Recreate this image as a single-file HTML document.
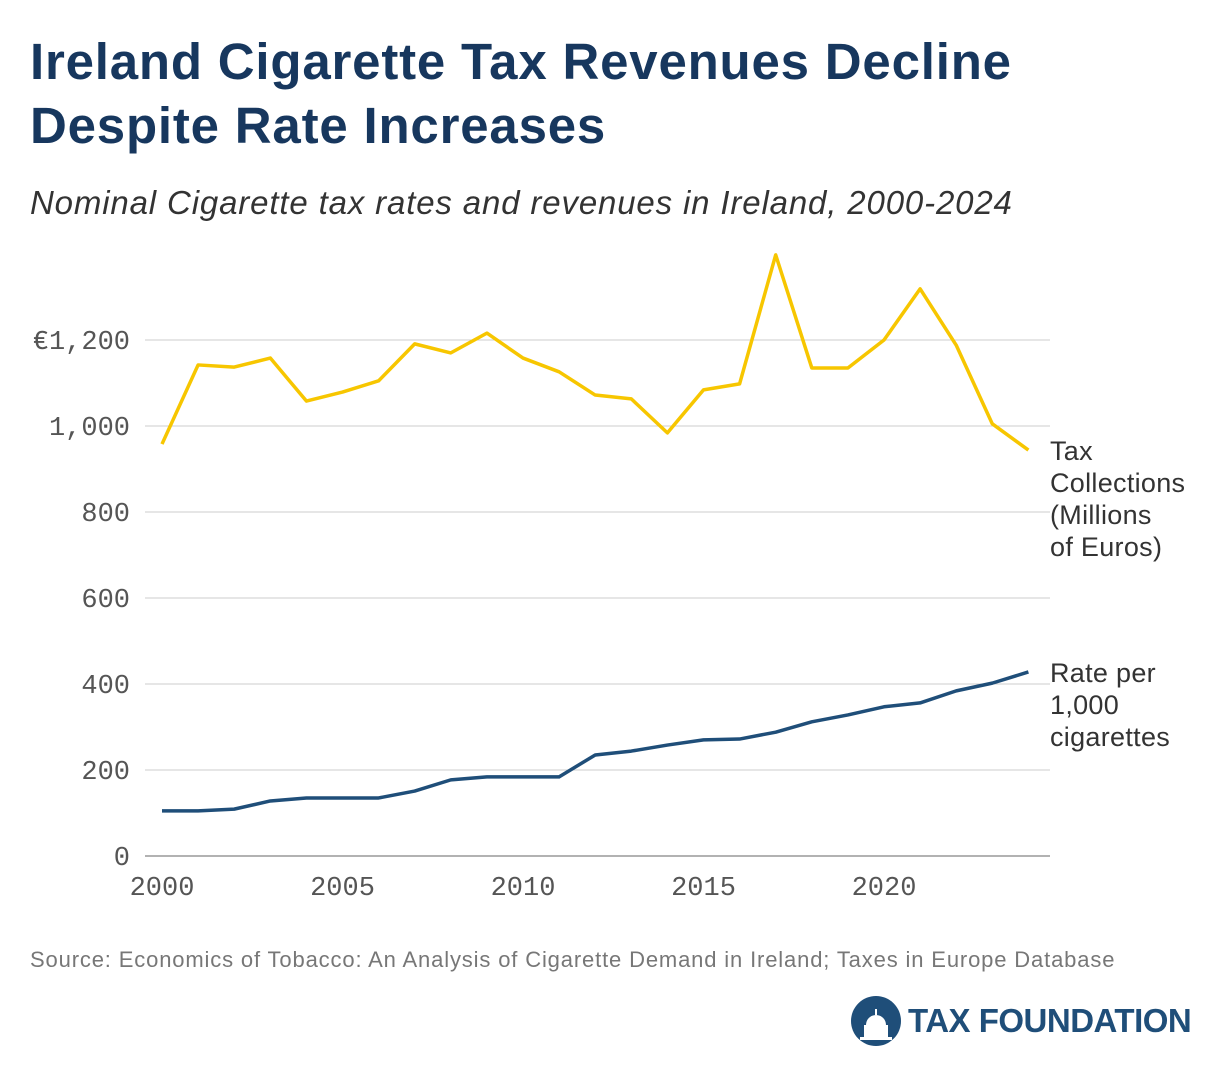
<!DOCTYPE html>
<html><head><meta charset="utf-8"><style>
body{margin:0;background:#fff;width:1220px;height:1074px;overflow:hidden;font-family:"Liberation Sans",sans-serif}
h1{position:absolute;left:30px;top:30px;margin:0;font-size:51px;line-height:64px;color:#17375e;font-weight:bold;letter-spacing:0.8px;white-space:nowrap}
.sub{position:absolute;left:30px;top:184px;font-size:33px;font-style:italic;color:#333;letter-spacing:0.85px;white-space:nowrap}
.src{position:absolute;left:30px;top:947px;font-size:22px;color:#777;letter-spacing:0.85px;white-space:nowrap}
.logo{position:absolute;left:850px;top:995px;display:flex;align-items:center}
.logo span{font-size:33px;font-weight:bold;color:#1f4e79;margin-left:6px;letter-spacing:-0.5px}
</style></head><body>
<h1>Ireland Cigarette Tax Revenues Decline<br>Despite Rate Increases</h1>
<div class="sub">Nominal Cigarette tax rates and revenues in Ireland, 2000-2024</div>
<svg id="chart" width="1220" height="1074" style="position:absolute;left:0;top:0"></svg>
<div class="src">Source: Economics of Tobacco: An Analysis of Cigarette Demand in Ireland; Taxes in Europe Database</div>
<div class="logo">
<svg width="52" height="52" viewBox="0 0 52 52"><circle cx="26" cy="26" r="25" fill="#1f4e79"/><path d="M10 42h32v3H10zM14 30h24v12H14z M16 30a10 10 0 0 1 20 0z" fill="#fff"/><rect x="25" y="14" width="2" height="6" fill="#fff"/></svg>
<span>TAX FOUNDATION</span></div>
<script>
const years=[2000,2001,2002,2003,2004,2005,2006,2007,2008,2009,2010,2011,2012,2013,2014,2015,2016,2017,2018,2019,2020,2021,2022,2023,2024];
const taxCollections=[958,1142,1137,1158,1058,1079,1105,1191,1170,1216,1158,1126,1072,1063,984,1084,1098,1398,1135,1135,1200,1319,1188,1005,944];
const ratePer1000=[105,105,109,128,135,135,135,151,177,184,184,184,235,244,258,270,272,288,312,328,347,356,384,402,428];
const yTicks=[0,200,400,600,800,1000,1200];
const yTickLabels=["0","200","400","600","800","1,000","€1,200"];
const xTicks=[2000,2005,2010,2015,2020];
const NS="http://www.w3.org/2000/svg";
const svg=document.getElementById('chart');
const x=v=>162+(v-2000)*36.1;
const y=v=>856-v*0.43;
function el(t,a){const e=document.createElementNS(NS,t);for(const k in a)e.setAttribute(k,a[k]);svg.appendChild(e);return e;}
yTicks.forEach((t,i)=>{
 const g=el('line',{x1:145,x2:1050,y1:y(t),y2:y(t),stroke:t===0?'#999':'#ccc','stroke-width':t===0?1.5:1});
 
 
 const l=el('text',{x:130,y:y(t)+9,'text-anchor':'end','font-family':'Liberation Mono, monospace','font-size':27,fill:'#555'});
 l.textContent=yTickLabels[i];
 
 
});
xTicks.forEach(t=>{
 const l=el('text',{x:x(t),y:895,'text-anchor':'middle','font-family':'Liberation Mono, monospace','font-size':27,fill:'#555'});
 l.textContent=t;
 
 
});
function line(vals,color,name){
 const p=el('polyline',{points:vals.map((v,i)=>x(years[i])+','+y(v)).join(' '),fill:'none',stroke:color,'stroke-width':3.5,'stroke-linejoin':'round'});
 
 
}
line(taxCollections,'#f7c600','tax-collections-line');
line(ratePer1000,'#1f4e79','rate-per-1000-line');
function label(lines,top,name){
 const t=el('text',{x:1050,y:top,'font-size':27,fill:'#333','font-family':'Liberation Sans, sans-serif','letter-spacing':0.3});
 
 
 lines.forEach((s,i)=>{const ts=document.createElementNS(NS,'tspan');ts.setAttribute('x',1050);ts.setAttribute('y',top+i*32);ts.textContent=s;t.appendChild(ts);});
}
label(['Tax','Collections','(Millions','of Euros)'],460,'tax-collections-label');
label(['Rate per','1,000','cigarettes'],682,'rate-label');
</script>
</body></html>
